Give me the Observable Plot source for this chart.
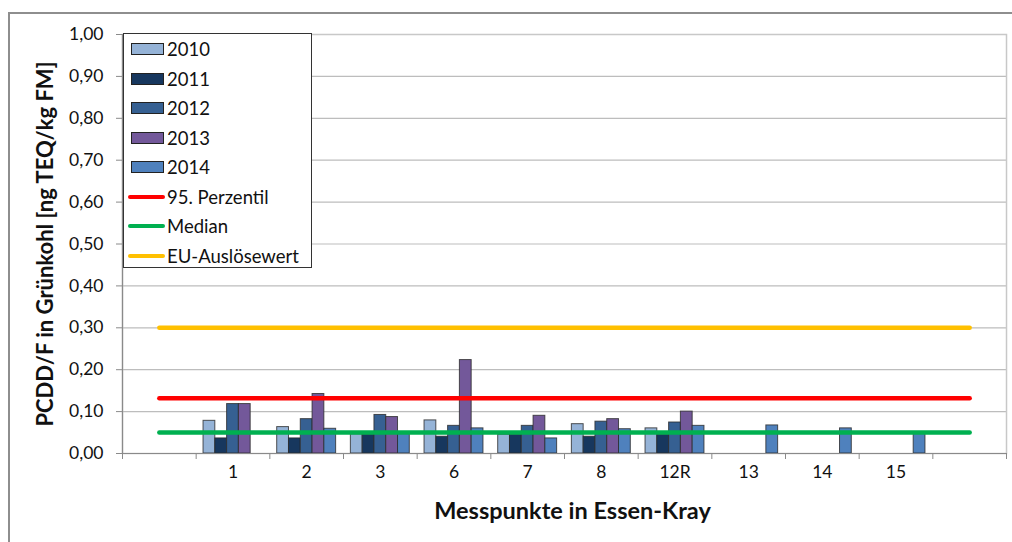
<!DOCTYPE html>
<html>
<head>
<meta charset="utf-8">
<script src="https://cdn.jsdelivr.net/npm/d3@7"></script>
<script src="https://cdn.jsdelivr.net/npm/@observablehq/plot@0.6"></script>
<style>
  html, body { margin: 0; padding: 0; background: #fff; overflow: hidden; }
  #wrap { position: relative; width: 1012px; height: 542px; overflow: hidden; font-family: Lato, "Open Sans", sans-serif; }
  #border { position: absolute; left: 8px; top: 12px; width: 1100px; height: 700px; border-left: 2px solid #8e8e8e; border-top: 2px solid #8e8e8e; }
  #chart { position: absolute; left: 0; top: 0; }
  #legend { position: absolute; left: 123px; top: 33px; width: 187px; height: 233px; border: 1.5px solid #333; background: #fff; }
  .row { position: absolute; left: 0; height: 22px; display: flex; align-items: center; font-size: 18.5px; color: #111; }
  .sw { display: inline-block; box-sizing: border-box; width: 33px; height: 12px; border: 1.2px solid #222; margin-left: 7px; margin-right: 3px; }
  .ln { display: inline-block; width: 37px; height: 4px; border-radius: 2px; margin-left: 4px; margin-right: 2px; }
</style>
</head>
<body>
<div id="wrap">
  <div id="border"></div>
  <div id="chart"></div>
  <div id="legend"></div>
</div>
<script>
// Categories (first and last are empty bands)
const categories = ["", "1", "2", "3", "6", "7", "8", "12R", "13", "14", "15", ""];
const years = ["2010", "2011", "2012", "2013", "2014"];
const yearColors = ["#95b3d7", "#17375e", "#366092", "#73589a", "#4f81bd"];

const v2010 = [null, 0.078, 0.063, 0.046, 0.079, 0.045, 0.070, 0.060, null, null, null, null];
const v2011 = [null, 0.036, 0.036, 0.045, 0.040, 0.045, 0.040, 0.045, null, null, null, null];
const v2012 = [null, 0.118, 0.082, 0.092, 0.066, 0.066, 0.076, 0.074, null, null, null, null];
const v2013 = [null, 0.118, 0.142, 0.087, 0.223, 0.090, 0.082, 0.100, null, null, null, null];
const v2014 = [null, null, 0.059, 0.050, 0.060, 0.036, 0.058, 0.066, 0.067, 0.060, 0.048, null];

const refNames = ["95. Perzentil", "Median", "EU-Auslösewert"];
const refValues = [0.132, 0.050, 0.30];
const refColors = ["#ff0000", "#00b050", "#ffc000"];

const yTicks = [0, 0.1, 0.2, 0.3, 0.4, 0.5, 0.6, 0.7, 0.8, 0.9, 1.0];
const yTitle = "PCDD/F in Grünkohl [ng TEQ/kg FM]";
const xTitle = "Messpunkte in Essen-Kray";

// Build table
const series = [v2010, v2011, v2012, v2013, v2014];
const rows = [];
series.forEach((vals, k) => vals.forEach((v, i) => {
  if (v != null) rows.push({i, k, year: years[k], v});
}));
const pad = 0.1, bw = 0.16;
const idx = categories.map((c, i) => i);

const fmt = d => d3.format(".2f")(d).replace(".", ",");

const marks = [
  Plot.gridY(yTicks.slice(1), {stroke: "#bdbdbd", strokeOpacity: 1, strokeWidth: 1.2}),
  Plot.frame({stroke: "#c8c8c8", strokeWidth: 1.5}),
  Plot.rectY(rows, {
    x1: d => d.i + pad + d.k * bw,
    x2: d => d.i + pad + (d.k + 1) * bw,
    y: "v",
    fill: "year",
    stroke: "#2a2a2a",
    strokeOpacity: 0.8,
    strokeWidth: 1
  }),
  ...refValues.map((rv, j) => Plot.lineY(idx, {
    x: i => i + 0.5,
    y: () => rv,
    stroke: refColors[j],
    strokeWidth: 4.5,
    strokeLinecap: "round"
  })),
  Plot.ruleX([0], {stroke: "#8a8a8a", strokeWidth: 1.2}),
  Plot.ruleY([0], {stroke: "#8a8a8a", strokeWidth: 1.2}),
  Plot.axisY(yTicks, {tickSize: 6, tickPadding: 13, tickFormat: fmt, stroke: "#8a8a8a", label: null, fontSize: 17.5}),
  Plot.axisX(d3.range(0, 13), {tickSize: 6, tickFormat: () => "", stroke: "#8a8a8a", label: null}),
  Plot.axisX(d3.range(1, 11).map(i => i + 0.5), {tickSize: 0, tickPadding: 12, tickFormat: d => categories[Math.floor(d)], label: null, fontSize: 17.5}),
  Plot.text([yTitle], {frameAnchor: "left", textAnchor: "middle", dx: -77, dy: 0, rotate: -90, fontWeight: "bold", fontSize: 22, fill: "#111"}),
  Plot.text([xTitle], {frameAnchor: "bottom", textAnchor: "middle", dx: 8, dy: 65, fontWeight: "bold", fontSize: 23.5, fill: "#111"})
];

const chart = Plot.plot({
  width: 1012,
  height: 542,
  marginLeft: 122,
  marginRight: 6,
  marginTop: 34,
  marginBottom: 89,
  style: {fontFamily: "Lato, 'Open Sans', sans-serif", fontSize: "17.5px", color: "#111", background: "transparent"},
  x: {domain: [0, 12], axis: null},
  y: {domain: [0, 1], axis: null},
  color: {domain: years, range: yearColors},
  marks
});
document.getElementById("chart").appendChild(chart);

// Legend
const legend = document.getElementById("legend");
const labels = years.concat(refNames);
labels.forEach((lab, j) => {
  const row = document.createElement("div");
  row.className = "row";
  row.style.top = (4 + j * 29.5) + "px";
  const sw = document.createElement("span");
  if (j < years.length) {
    sw.className = "sw";
    sw.style.background = yearColors[j];
  } else {
    sw.className = "ln";
    sw.style.background = refColors[j - years.length];
  }
  row.appendChild(sw);
  const t = document.createElement("span");
  t.textContent = lab;
  row.appendChild(t);
  legend.appendChild(row);
});
</script>
</body>
</html>
